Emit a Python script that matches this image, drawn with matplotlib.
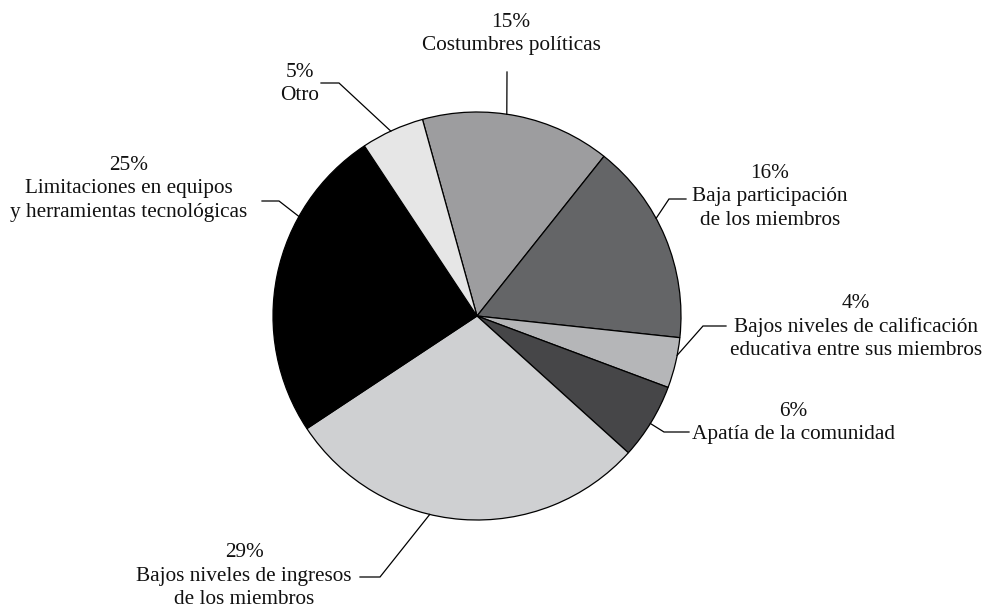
import numpy as np
import matplotlib
matplotlib.use("Agg")
import matplotlib.pyplot as plt

# Problems reported by the organisations (share of responses, %)
categories = [
    "Costumbres políticas",
    "Baja participación\nde los miembros",
    "Bajos niveles de calificación\neducativa entre sus miembros",
    "Apatía de la comunidad",
    "Bajos niveles de ingresos\nde los miembros",
    "Limitaciones en equipos\ny herramientas tecnológicas",
    "Otro",
]
shares = [15, 16, 4, 6, 29, 25, 5]
colors = ["#9d9d9f", "#646567", "#b5b6b8", "#464648", "#cfd0d2", "#000000", "#e6e6e6"]

# Layout in figure pixels (x right, y down)
W, H = 984, 611
CX, CY, R = 477, 316, 204
START = 105.5
# label block centre, anchor angle on the rim, elbow point, line end
label_pos = [(511, 34), (770, 197), (856, 327), (793, 423), (244, 576), (129, 189), (300, 84)]
anchor_deg = [81.6, 28.6, -11.1, -31.8, 256.6, 150.8, 115.0]
elbows = [(507, 72), (669, 199), (703, 326), (664, 432), (380, 577), (279, 201), (339, 83)]
ends = [(507, 72), (686, 199), (726, 326), (689, 432), (360, 577), (262, 201), (321, 83)]

plt.rcParams["font.family"] = ["Liberation Serif", "DejaVu Serif"]

fig = plt.figure(figsize=(W / 100, H / 100), dpi=100)
ax = fig.add_axes([0, 0, 1, 1])


def fy(y):
    return H - y


ax.pie(shares, colors=colors, startangle=START, counterclock=False,
       center=(CX, fy(CY)), radius=R,
       wedgeprops=dict(edgecolor="black", linewidth=0.9))

for cat, val, (tx, ty), ang, (ex, ey), (qx, qy) in zip(
        categories, shares, label_pos, anchor_deg, elbows, ends):
    a = np.deg2rad(ang)
    x0 = CX + R * np.cos(a)
    y0 = fy(CY) + R * np.sin(a)
    ax.plot([x0, ex, qx], [y0, fy(ey), fy(qy)], color="black", lw=0.9,
            solid_joinstyle="miter", zorder=5)
    ax.text(tx, fy(ty), f"{val}%\n{cat}", ha="center", va="center",
            multialignment="center", fontsize=15.3, linespacing=1.3,
            color="#111111")

ax.set_xlim(0, W)
ax.set_ylim(0, H)
ax.set_aspect("equal")
ax.axis("off")

fig.savefig("out.png", dpi=100, facecolor="white")
